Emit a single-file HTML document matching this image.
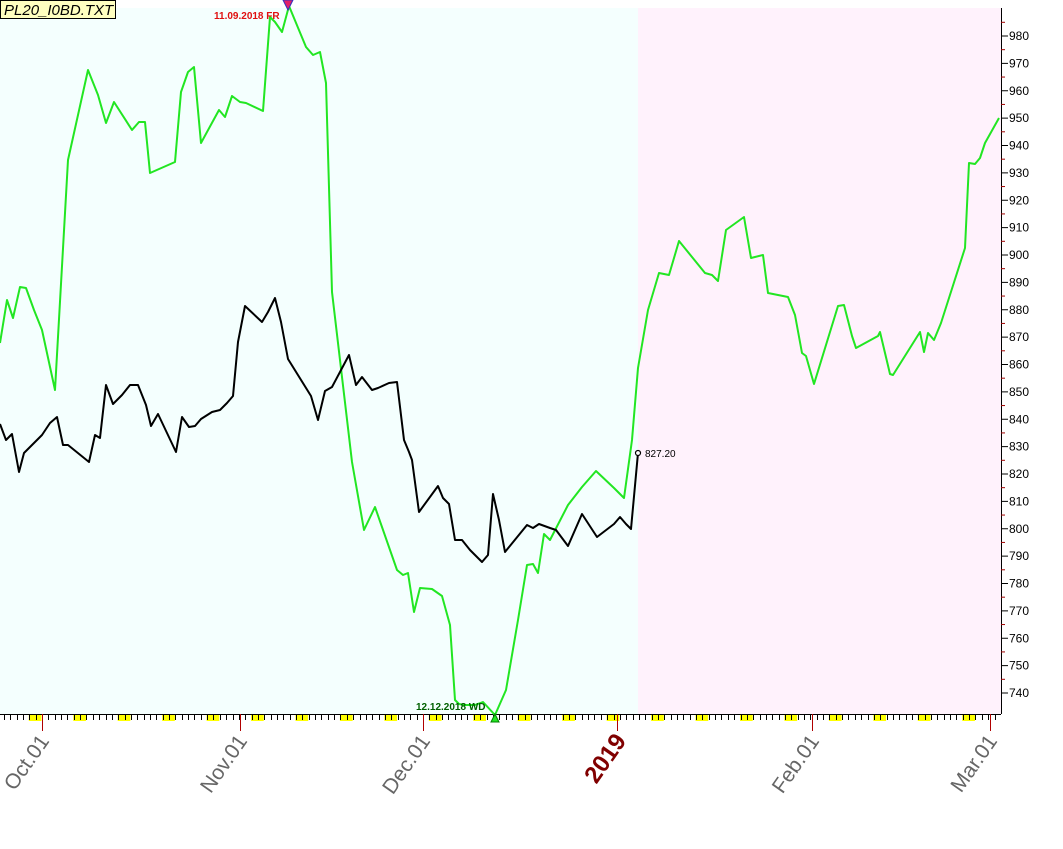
<!DOCTYPE html>
<html><head><meta charset="utf-8"><style>
html,body{margin:0;padding:0;background:#fff;width:1063px;height:849px;overflow:hidden}
svg{display:block;font-family:"Liberation Sans",Arial,sans-serif}
</style></head><body>
<svg id="s" width="1063" height="849" viewBox="0 0 1063 849" xmlns="http://www.w3.org/2000/svg">
<rect x="0" y="8" width="638" height="706" fill="#f4fffe"/>
<rect x="638" y="8" width="363" height="706" fill="#fff2fc"/>
<g id="ax"></g>
<polyline fill="none" stroke="#22e622" stroke-width="2" stroke-linejoin="round" points="0,343 7,300 13,318 20,287 26,288 34,310 42,330 55,390 68,160 88,70 98,95 106,123 114,102 132,130 139,122 145,122 150,173 175,162 181,92 188,72 194,67 201,143 219,110 225,117 232,96 240,102 246,103 263,111 270,17 275,22 282,32 289,6 306,47 313,55 320,52 326,83 332,292 352,462 364,530 375,507 397,570 403,575 408,573 414,612 420,588 432,589 442,596 450,625 455,700 459,704 464,705 475,705 483,702 495,715 506,690 518,620 527,565 533,564 538,573 544,534 550,540 568,505 582,487 596,471 614,488 624,498 632,440 638,368 648,310 659,273 669,275 679,241 705,273 712,275 718,281 726,230 744,217 751,258 763,255 768,293 788,297 795,315 802,353 806,356 814,384 838,306 844,305 852,336 856,348 878,336 880,332 890,374 893,375 920,332 924,352 928,333 934,340 941,323 965,248 969,163 975,164 980,158 985,143 999,118"/>
<polyline fill="none" stroke="#000" stroke-width="2" stroke-linejoin="round" points="0,424 6,440 12,434 19,472 24,453 34,443 42,435 50,423 57,417 63,445 68,445 89,462 95,435 100,438 106,385 113,404 122,395 130,385 138,385 146,405 151,426 158,414 176,452 182,417 189,427 195,426 201,419 212,412 220,410 227,403 233,396 238,342 245,306 262,322 268,312 275,298 281,322 288,359 311,396 318,420 325,391 332,387 349,355 356,385 362,377 372,390 378,388 389,383 397,382 404,440 409,452 412,460 419,512 438,486 443,498 449,504 455,540 462,540 470,550 482,562 488,555 493,494 499,520 505,552 527,525 533,528 539,524 550,528 556,530 568,546 582,514 597,537 614,524 620,517 626,524 631,529 638,453"/>
<circle cx="638" cy="453" r="2.5" fill="#fff" stroke="#000" stroke-width="1.2"/>
<text x="645" y="457" font-size="10" fill="#000">827.20</text>
<polygon points="283,0 293,0 288,10" fill="#e0206a" stroke="#3030c0" stroke-width="1"/>
<text x="214" y="19" font-size="10" font-weight="bold" fill="#e01010">11.09.2018 FR</text>
<polygon points="491,722 499,722 495,714" fill="#22e622" stroke="#008000" stroke-width="1"/>
<text x="416" y="710" font-size="10" font-weight="bold" fill="#006000">12.12.2018 WD</text>
<rect x="0.5" y="0.5" width="115" height="18" fill="#ffffc0" stroke="#000"/>
<text x="4" y="15" font-size="15" font-style="italic" fill="#000">PL20_I0BD.TXT</text>
</svg>
<script>
var g=document.getElementById('ax'),h='';
var d=6.35,x0=42;
for(var i=-7;i<160;i++){var x=x0+i*d;if(x<0||x>1000)continue;var dow=((i%7)+7)%7;
 if(dow==5)h+='<rect x="'+(x-0.5)+'" y="714" width="'+(2*d)+'" height="7" fill="#ffff00"/>';}
for(var i=-7;i<160;i++){var x=x0+i*d;if(x<0||x>1000)continue;
 h+='<line x1="'+Math.round(x)+'.5" y1="714" x2="'+Math.round(x)+'.5" y2="720" stroke="#000"/>';}
h+='<line x1="0" y1="714.5" x2="1001" y2="714.5" stroke="#000"/>';
h+='<line x1="1001.5" y1="8" x2="1001.5" y2="714" stroke="#000"/>';
for(var v=740;v<=980;v+=10){var y=36+(980-v)*2.7375;
 h+='<line x1="1001" y1="'+y+'" x2="1008" y2="'+y+'" stroke="#000"/>';
 h+='<line x1="1001" y1="'+(y-13.7)+'" x2="1005" y2="'+(y-13.7)+'" stroke="#a00000"/>';
 h+='<text x="1009" y="'+(y+4)+'" font-size="12" fill="#000">'+v+'</text>';}
var L=[[42,'Oct.01'],[240,'Nov.01'],[423,'Dec.01'],[617,'2019'],[812,'Feb.01'],[990,'Mar.01']];
L.forEach(function(a){var x=a[0];
 h+='<line x1="'+x+'.5" y1="714" x2="'+x+'.5" y2="731" stroke="#b00000"/>';
 if(a[1]=='2019')h+='<text x="'+(x+10)+'" y="741" font-size="24" font-weight="bold" fill="#800000" text-anchor="end" transform="rotate(-55 '+(x+10)+' 741)">2019</text>';
 else h+='<text x="'+(x+8)+'" y="741" font-size="21" fill="#666" text-anchor="end" transform="rotate(-55 '+(x+8)+' 741)">'+a[1]+'</text>';});
g.innerHTML=h;
</script>
</body></html>
